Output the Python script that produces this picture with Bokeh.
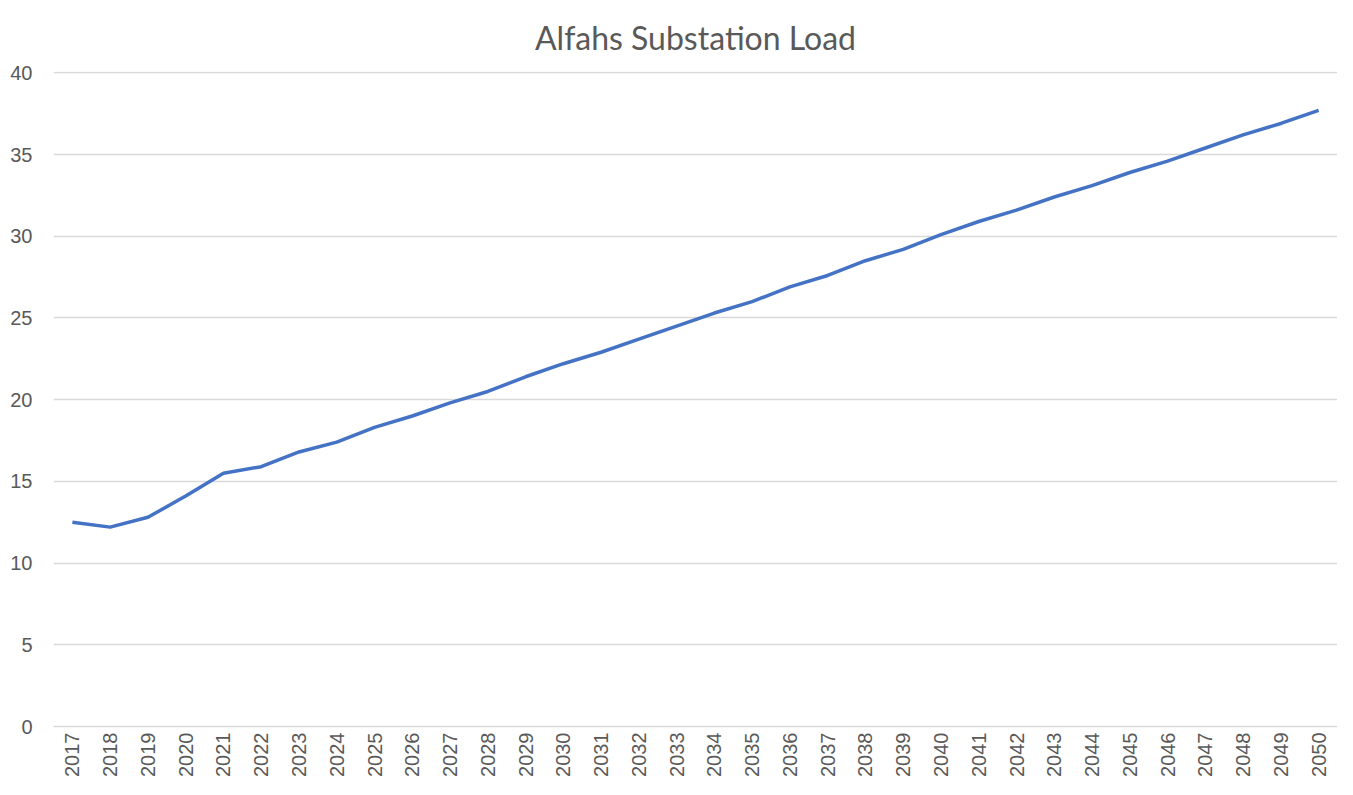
import math
from bokeh.plotting import figure
from bokeh.models import Range1d, ColumnDataSource, SingleIntervalTicker
from bokeh.embed import file_html
from bokeh.resources import INLINE

years = [str(y) for y in range(2017, 2051)]
load = [12.5, 12.2, 12.8, 14.1, 15.5, 15.9, 16.8, 17.4, 18.3, 19.0,
        19.8, 20.5, 21.4, 22.2, 22.9, 23.7, 24.5, 25.3, 26.0, 26.9,
        27.6, 28.5, 29.2, 30.1, 30.9, 31.6, 32.4, 33.1, 33.9, 34.6,
        35.4, 36.2, 36.9, 37.7]

src = ColumnDataSource(dict(year=years, load=load))

p = figure(x_range=years, y_range=Range1d(0, 40.08), width=1337, height=779,
           output_backend="svg", toolbar_location=None,
           title="Alfahs Substation Load",
           min_border_left=53, min_border_right=0, min_border_top=0, min_border_bottom=0)

p.line("year", "load", source=src, line_color="#4472C4", line_width=3.5)

p.title.align = "center"
p.title.text_font = "Lato"
p.title.text_font_size = "32px"
p.title.text_font_style = "normal"
p.title.text_color = "#595959"
p.title.text_line_height = 1.5
p.title.offset = 0
p.title.standoff = 30

p.outline_line_color = None
p.background_fill_color = "white"
p.border_fill_color = "white"

p.yaxis.ticker = SingleIntervalTicker(interval=5)
p.yaxis.axis_line_color = None
p.yaxis.major_tick_line_color = None
p.yaxis.minor_tick_line_color = None
p.yaxis.major_tick_out = 0
p.yaxis.minor_tick_out = 0
p.yaxis.major_label_text_font = "Liberation Sans"
p.yaxis.major_label_text_font_size = "20px"
p.yaxis.major_label_text_color = "#595959"
p.yaxis.major_label_standoff = 21

p.xaxis.axis_line_color = "#D9D9D9"
p.xaxis.axis_line_width = 1.3
p.xaxis.major_tick_line_color = None
p.xaxis.major_tick_out = 0
p.xaxis.major_label_orientation = math.pi / 2
p.xaxis.major_label_text_font = "Liberation Sans"
p.xaxis.major_label_text_font_size = "20px"
p.xaxis.major_label_text_color = "#595959"
p.xaxis.major_label_standoff = 6

p.xgrid.grid_line_color = None
p.ygrid.grid_line_color = "#D9D9D9"
p.ygrid.grid_line_width = 1.3

open("out.html", "w").write(file_html(p, INLINE))
